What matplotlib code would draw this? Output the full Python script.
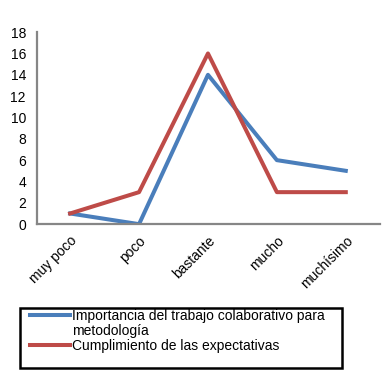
import matplotlib.pyplot as plt
from matplotlib.lines import Line2D
from matplotlib.patches import Rectangle

plt.rcParams['font.family'] = ['Liberation Sans', 'DejaVu Sans']

categorias = ['muy poco', 'poco', 'bastante', 'mucho', 'muchísimo']
importancia = [1, 0, 14, 6, 5]
cumplimiento = [1, 3, 16, 3, 3]
etiquetas = ['Importancia del trabajo colaborativo para',
             'metodología',
             'Cumplimiento de las expectativas']

fig = plt.figure(figsize=(3.9, 3.78), dpi=100)
ax = fig.add_axes([0.095, 0.407, 0.88, 0.508])

x = range(len(categorias))
l1, = ax.plot(x, importancia, color='#4A7EBB', lw=2.9)
l2, = ax.plot(x, cumplimiento, color='#BE4B48', lw=2.9)

ax.set_xlim(-0.48, 4.5)
ax.set_ylim(0, 18)
ax.set_yticks(range(0, 19, 2))
ax.set_xticks(list(x))
ax.set_xticklabels(categorias, rotation=45, ha='right', rotation_mode='anchor')
ax.tick_params(length=0, labelsize=10)
ax.tick_params(axis='y', pad=8)
ax.tick_params(axis='x', pad=7)
for s in ['top', 'right']:
    ax.spines[s].set_visible(False)
for s in ['left', 'bottom']:
    ax.spines[s].set_color('#868686')
    ax.spines[s].set_linewidth(1.6)

# leyenda: segunda línea del primer rótulo como entrada sin marca
vacio = Line2D([], [], color='none')
fig.legend([l1, vacio, l2], etiquetas, loc='upper left',
           bbox_to_anchor=(30 / 390, 1 - 309 / 378),
           bbox_transform=fig.transFigure, frameon=False,
           fontsize=10, handlelength=2.9, handletextpad=0.15,
           labelspacing=0.08, borderpad=0.0, borderaxespad=0)
fig.patches.append(Rectangle((20 / 390, 1 - 368 / 378), 322 / 390, 60 / 378,
                             transform=fig.transFigure, fill=False,
                             edgecolor='black', linewidth=1.8))

fig.savefig('out.png', dpi=100)
